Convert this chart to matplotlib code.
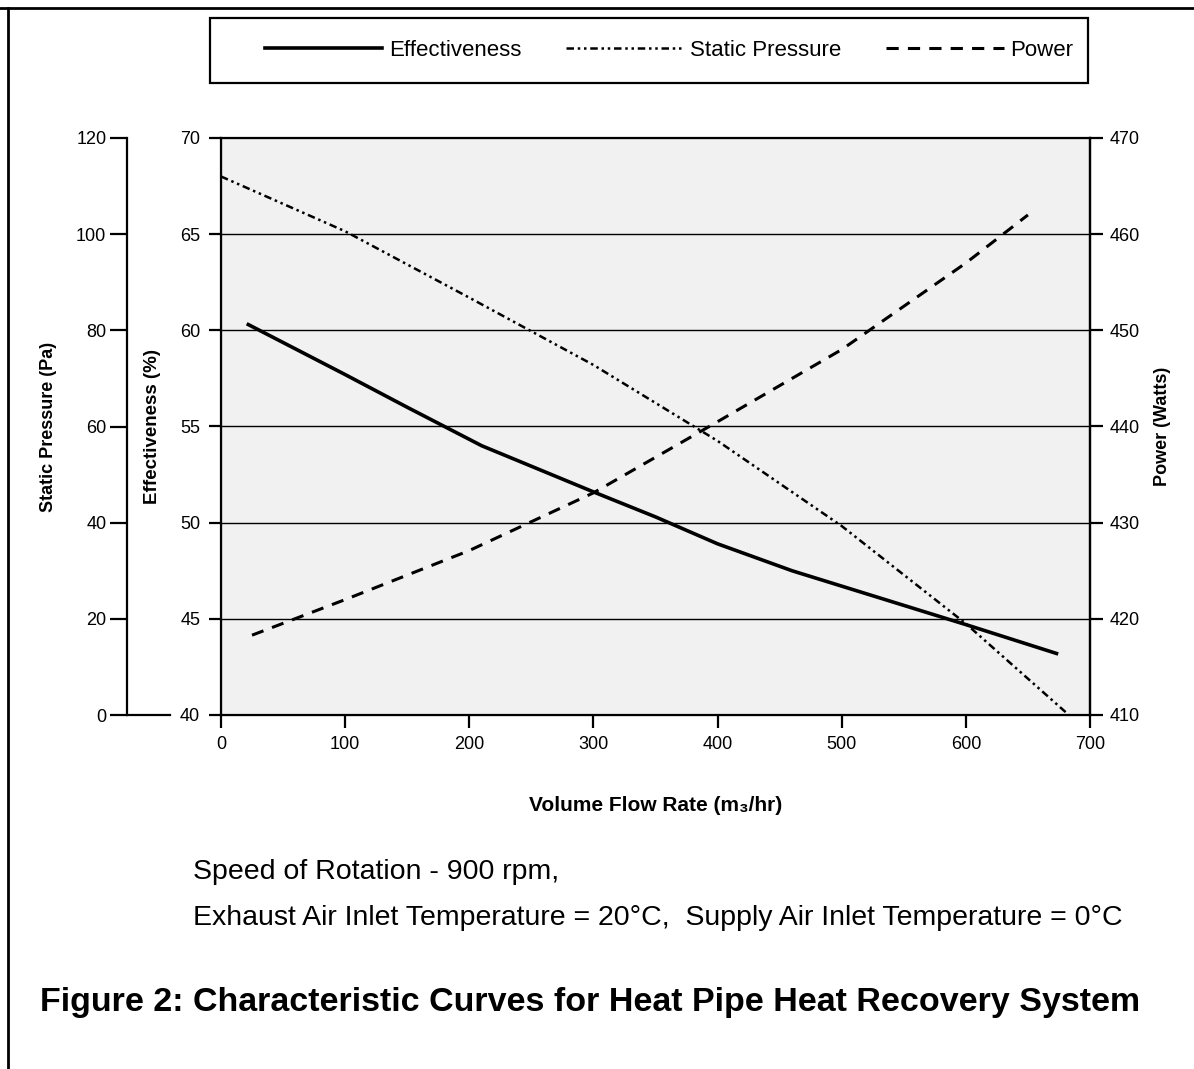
import numpy as np
import matplotlib
matplotlib.use('Agg')
import matplotlib.pyplot as plt
from matplotlib.lines import Line2D
from matplotlib.patches import Rectangle

plt.rcParams['font.family'] = ['Liberation Sans', 'DejaVu Sans']

# Data
eff_x = [22, 100, 150, 210, 300, 350, 400, 460, 500, 600, 673]
eff_y = [60.3, 57.7, 56.0, 54.0, 51.6, 50.3, 48.9, 47.5, 46.7, 44.7, 43.2]

sp_x = [0, 100, 200, 300, 400, 500, 600, 683]
sp_y = [112, 100.6, 86.8, 72.8, 57, 39.3, 19, 0]

pw_x = [25, 100, 200, 300, 400, 500, 600, 650]
pw_y = [418.3, 422, 427.1, 433.1, 440.5, 448, 457, 462]

x_ticks = [0, 100, 200, 300, 400, 500, 600, 700]
eff_ticks = [40, 45, 50, 55, 60, 65, 70]
sp_ticks = [0, 20, 40, 60, 80, 100, 120]
pw_ticks = [410, 420, 430, 440, 450, 460, 470]

W, H = 1194, 1069
fig = plt.figure(figsize=(W / 100, H / 100), dpi=100)
fig.patch.set_facecolor('white')

ax = fig.add_axes([221 / W, 1 - 715 / H, 869 / W, 577 / H])
ax.set_facecolor('#f1f1f1')
ax.set_xlim(0, 700)
ax.set_ylim(40, 70)
ax.set_xticks(x_ticks)
ax.set_yticks(eff_ticks)
for y in eff_ticks[1:-1]:
    ax.axhline(y, color='black', lw=1.0, zorder=1)
for s in ax.spines.values():
    s.set_linewidth(1.6)
ax.tick_params(axis='both', direction='out', length=9, width=1.6, labelsize=13, pad=6)

ax_sp = ax.twinx()
ax_sp.spines['left'].set_position(('axes', -0.108))
ax_sp.spines['left'].set_visible(True)
ax_sp.spines['left'].set_linewidth(1.6)
ax_sp.spines['right'].set_visible(False)
ax_sp.spines['top'].set_visible(False)
ax_sp.spines['bottom'].set_visible(False)
ax_sp.yaxis.set_label_position('left')
ax_sp.yaxis.set_ticks_position('left')
ax_sp.set_ylim(0, 120)
ax_sp.set_yticks(sp_ticks)
ax_sp.tick_params(axis='y', direction='out', length=12, width=1.6, labelsize=13, pad=3)
ax_sp.plot([-0.108, -0.059], [0, 0], transform=ax.transAxes, color='black',
           lw=1.6, clip_on=False)

ax_pw = ax.twinx()
ax_pw.set_ylim(410, 470)
ax_pw.set_yticks(pw_ticks)
ax_pw.spines['right'].set_linewidth(1.6)
ax_pw.tick_params(axis='y', direction='out', length=9, width=1.6, labelsize=13, pad=5)

l1, = ax.plot(eff_x, eff_y, color='black', lw=2.6, label='Effectiveness', zorder=5)
l2, = ax_sp.plot(sp_x, sp_y, color='black', lw=1.8, label='Static Pressure',
                 dashes=(3, 1.5, 1, 1.5, 1, 1.5))
l3, = ax_pw.plot(pw_x, pw_y, color='black', lw=2.2, label='Power', dashes=(4, 3))

ax.text(-0.079, 0.5, 'Effectiveness (%)', transform=ax.transAxes, rotation=90,
        ha='center', va='center', fontsize=13.5, fontweight='bold')
ax.text(-0.199, 0.5, 'Static Pressure (Pa)', transform=ax.transAxes, rotation=90,
        ha='center', va='center', fontsize=13, fontweight='bold')
ax.text(1.084, 0.5, 'Power (Watts)', transform=ax.transAxes, rotation=90,
        ha='center', va='center', fontsize=13, fontweight='bold')
ax.text(0.5, -0.156, 'Volume Flow Rate (m₃/hr)', transform=ax.transAxes,
        ha='center', va='center', fontsize=15, fontweight='bold')

# legend box
fig.add_artist(Rectangle((210 / W, 1 - 83 / H), 878 / W, 65 / H,
                         transform=fig.transFigure, fill=False,
                         edgecolor='black', lw=1.6))
fig.legend(handles=[l1, l2, l3], loc='center', ncol=3,
           bbox_to_anchor=(669 / W, 1 - 50 / H), frameon=False,
           handlelength=5.3, fontsize=16, handletextpad=0.3, columnspacing=2.0)

fig.text(193 / W, 1 - 872 / H, 'Speed of Rotation - 900 rpm,', fontsize=20.5,
         ha='left', va='center')
fig.text(193 / W, 1 - 918 / H,
         'Exhaust Air Inlet Temperature = 20°C,  Supply Air Inlet Temperature = 0°C',
         fontsize=20.5, ha='left', va='center')
fig.text(40 / W, 1 - 1003 / H,
         'Figure 2: Characteristic Curves for Heat Pipe Heat Recovery System',
         fontsize=24.5, fontweight='bold', ha='left', va='center')

# page frame from the scan
fig.add_artist(Line2D([0, 1], [1 - 8 / H, 1 - 8 / H], color='black', lw=2))
fig.add_artist(Line2D([8 / W, 8 / W], [0, 1 - 8 / H], color='black', lw=2))

fig.savefig('out.png', dpi=100)
